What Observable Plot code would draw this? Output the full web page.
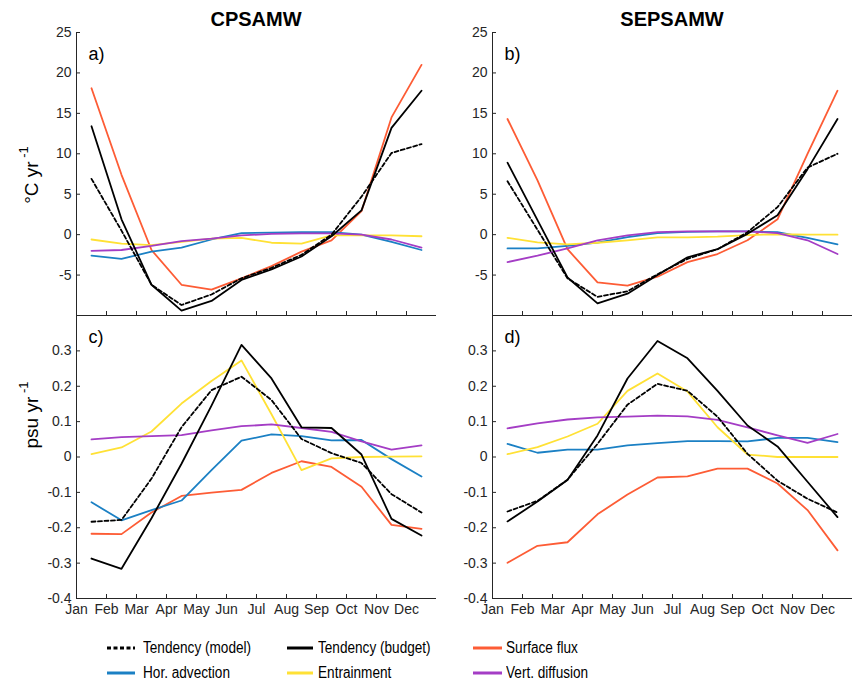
<!DOCTYPE html>
<html><head><meta charset="utf-8">
<script src="https://cdn.jsdelivr.net/npm/d3@7"></script>
<script src="https://cdn.jsdelivr.net/npm/@observablehq/plot@0.6"></script>
<style>
body{margin:0;background:#fff;font-family:"Liberation Sans",Arial,sans-serif;}
#wrap{position:relative;width:852px;height:682px;overflow:hidden;background:#fff;}
.p{position:absolute;}
.title{position:absolute;font-weight:bold;font-size:20px;transform:translate(-50%,-50%);color:#000;white-space:nowrap;}
.leg{position:absolute;height:20px;transform:translateY(-50%);}
.leg svg{position:absolute;left:0;top:0;}
.leg span{position:absolute;top:0;line-height:20px;font-size:16px;color:#000;white-space:nowrap;transform:scaleX(0.85);transform-origin:left center;}
</style></head><body><div id="wrap"></div>
<script>
const months = ["Jan","Feb","Mar","Apr","May","Jun","Jul","Aug","Sep","Oct","Nov","Dec"];
const names = ["Tendency (model)","Tendency (budget)","Surface flux","Hor. advection","Entrainment","Vert. diffusion"];
const colors = ["#000000","#000000","#FD5C35","#1B80C4","#FFE135","#A43DC5"];

// a) CPSAMW temperature (°C/yr)
const aModel  = [6.9, 0.5, -6.2, -8.7, -7.4, -5.4, -4.1, -2.5, 0.0, 4.7, 10.1, 11.2];
const aBudget = [13.4, 1.9, -6.2, -9.4, -8.2, -5.6, -4.3, -2.7, -0.2, 3.0, 13.2, 17.8];
const aSurf   = [18.1, 7.4, -1.9, -6.2, -6.8, -5.4, -3.9, -2.1, -0.7, 2.9, 14.5, 21.0];
const aHor    = [-2.6, -3.0, -2.1, -1.6, -0.6, 0.2, 0.25, 0.3, 0.3, 0.0, -0.9, -1.9];
const aEnt    = [-0.6, -1.1, -1.3, -0.9, -0.5, -0.4, -1.0, -1.1, -0.1, -0.1, -0.1, -0.2];
const aVert   = [-2.0, -1.9, -1.4, -0.8, -0.5, -0.1, 0.1, 0.15, 0.15, 0.0, -0.6, -1.6];

// b) SEPSAMW temperature (°C/yr)
const bModel  = [6.6, 0.6, -5.4, -7.7, -7.0, -4.9, -3.0, -1.8, 0.3, 3.4, 8.3, 10.0];
const bBudget = [8.9, 1.8, -5.3, -8.5, -7.3, -5.0, -2.8, -1.8, 0.1, 2.4, 8.1, 14.3];
const bSurf   = [14.3, 6.7, -1.8, -5.9, -6.3, -5.2, -3.4, -2.4, -0.7, 1.9, 10.0, 17.8];
const bHor    = [-1.7, -1.7, -1.4, -1.0, -0.3, 0.2, 0.35, 0.4, 0.4, 0.3, -0.4, -1.2];
const bEnt    = [-0.4, -0.95, -1.2, -1.0, -0.7, -0.35, -0.35, -0.25, -0.05, 0.05, 0.0, 0.0];
const bVert   = [-3.4, -2.6, -1.7, -0.7, -0.1, 0.3, 0.4, 0.4, 0.4, 0.2, -0.7, -2.4];

// c) CPSAMW salinity (psu/yr)
const cModel  = [-0.183, -0.178, -0.061, 0.084, 0.189, 0.227, 0.161, 0.051, 0.011, -0.017, -0.105, -0.157];
const cBudget = [-0.287, -0.316, -0.173, -0.019, 0.145, 0.317, 0.222, 0.084, 0.082, 0.007, -0.175, -0.222];
const cSurf   = [-0.217, -0.218, -0.157, -0.110, -0.101, -0.093, -0.045, -0.012, -0.028, -0.084, -0.192, -0.203];
const cHor    = [-0.128, -0.179, -0.150, -0.123, -0.037, 0.046, 0.064, 0.059, 0.047, 0.048, -0.006, -0.055];
const cEnt    = [0.008, 0.027, 0.072, 0.151, 0.215, 0.273, 0.121, -0.037, -0.004, 0.0, 0.001, 0.002];
const cVert   = [0.050, 0.056, 0.059, 0.062, 0.075, 0.087, 0.092, 0.082, 0.071, 0.044, 0.021, 0.033];

// d) SEPSAMW salinity (psu/yr)
const dModel  = [-0.154, -0.124, -0.064, 0.037, 0.148, 0.207, 0.187, 0.114, 0.009, -0.067, -0.118, -0.157];
const dBudget = [-0.182, -0.126, -0.065, 0.061, 0.222, 0.328, 0.279, 0.187, 0.089, 0.030, -0.070, -0.170];
const dSurf   = [-0.299, -0.251, -0.241, -0.162, -0.106, -0.058, -0.055, -0.033, -0.033, -0.075, -0.150, -0.264];
const dHor    = [0.037, 0.012, 0.021, 0.021, 0.033, 0.039, 0.045, 0.045, 0.044, 0.054, 0.054, 0.042];
const dEnt    = [0.008, 0.028, 0.058, 0.094, 0.187, 0.236, 0.185, 0.084, 0.007, 0.0, 0.0, 0.0];
const dVert   = [0.081, 0.095, 0.106, 0.112, 0.114, 0.117, 0.115, 0.105, 0.084, 0.061, 0.040, 0.065];

const tempTicks = [-5, 0, 5, 10, 15, 20, 25];
const salTicks = [-0.4, -0.3, -0.2, -0.1, 0, 0.1, 0.2, 0.3];

const INK = "#262626";
const FONT = "Liberation Sans, Arial, sans-serif";

function tidy(arrs) {
  const rows = [];
  arrs.forEach((arr, k) => arr.forEach((v, i) => rows.push({m: i + 0.5, v, s: names[k]})));
  return rows;
}

function panel({arrs, yDomain, yTicks, label, xLabels, left, top, h, mt, mb}) {
  const rows = tidy(arrs);
  const W = 436, ML = 76, MR = 0;
  const plotH = h - mt - mb, plotW = W - ML - MR;
  const order = [2, 3, 4, 5, 1, 0];
  const lines = order.map(k => Plot.line(rows.filter(r => r.s === names[k]), {
    x: "m", y: "v", stroke: "s", strokeWidth: 1.8,
    strokeDasharray: k === 0 ? "4,2.5" : null
  }));
  const chart = Plot.plot({
    width: W, height: h, marginLeft: ML, marginRight: MR, marginTop: mt, marginBottom: mb,
    style: {background: "transparent", overflow: "visible", fontFamily: FONT},
    x: {domain: [0, 12], axis: null},
    y: {domain: yDomain, axis: null},
    color: {domain: names, range: colors},
    marks: [
      Plot.ruleX([0], {stroke: INK, strokeWidth: 1}),
      Plot.ruleY([yDomain[0]], {stroke: INK, strokeWidth: 1}),
      Plot.tickY(yTicks, {y: d => d, stroke: INK, insetRight: plotW - 4}),
      Plot.tickX(d3.range(1, 12), {x: d => d, stroke: INK, insetTop: plotH - 4}),
      Plot.axisY(yTicks, {tickSize: 0, tickPadding: 5, tickFormat: d => String(d), fontSize: 14, color: INK, label: null}),
      xLabels ? Plot.axisX(d3.range(12), {tickSize: 0, tickPadding: 6, tickFormat: i => months[i], fontSize: 14, color: INK, label: null}) : null,
      ...lines,
      Plot.text([label], {text: d => d, frameAnchor: "top-left", dx: 12, dy: 27, fontSize: 18, lineAnchor: "bottom", fill: "#000"})
    ]
  });
  chart.classList.add("p");
  chart.style.left = left + "px";
  chart.style.top = top + "px";
  return chart;
}

const wrap = document.getElementById("wrap");
wrap.appendChild(panel({arrs: [aModel, aBudget, aSurf, aHor, aEnt, aVert], yDomain: [-10, 25], yTicks: tempTicks, label: "a)", xLabels: false, left: 0, top: 0, h: 320, mt: 32, mb: 5}));
wrap.appendChild(panel({arrs: [bModel, bBudget, bSurf, bHor, bEnt, bVert], yDomain: [-10, 25], yTicks: tempTicks, label: "b)", xLabels: false, left: 416, top: 0, h: 320, mt: 32, mb: 5}));
wrap.appendChild(panel({arrs: [cModel, cBudget, cSurf, cHor, cEnt, cVert], yDomain: [-0.4, 0.4], yTicks: salTicks, label: "c)", xLabels: true, left: 0, top: 300, h: 335, mt: 15, mb: 37}));
wrap.appendChild(panel({arrs: [dModel, dBudget, dSurf, dHor, dEnt, dVert], yDomain: [-0.4, 0.4], yTicks: salTicks, label: "d)", xLabels: true, left: 416, top: 300, h: 335, mt: 15, mb: 37}));

// titles
[["CPSAMW", 256], ["SEPSAMW", 672]].forEach(([t, x]) => {
  const d = document.createElement("div");
  d.className = "title"; d.textContent = t;
  d.style.left = x + "px"; d.style.top = "19px";
  wrap.appendChild(d);
});

// y-axis labels
const ns = "http://www.w3.org/2000/svg";
const ylab = document.createElementNS(ns, "svg");
ylab.setAttribute("width", 60); ylab.setAttribute("height", 682);
ylab.style.position = "absolute"; ylab.style.left = "0px"; ylab.style.top = "0px";
[["°C yr", 38, 175], ["psu yr", 38, 415]].forEach(([t, x, y]) => {
  const tx = document.createElementNS(ns, "text");
  tx.setAttribute("transform", `translate(${x},${y}) rotate(-90)`);
  tx.setAttribute("text-anchor", "middle");
  tx.setAttribute("font-size", 19);
  tx.setAttribute("font-family", FONT);
  tx.setAttribute("fill", "#000");
  tx.appendChild(document.createTextNode(t));
  const sup = document.createElementNS(ns, "tspan");
  sup.setAttribute("dy", -10);
  sup.setAttribute("font-size", 13);
  sup.textContent = " -1";
  tx.appendChild(sup);
  ylab.appendChild(tx);
});
wrap.appendChild(ylab);

// legend
const legPos = [[107, 648], [287, 648], [473, 648], [107, 673], [287, 673], [473, 673]];
const legLen = [28, 26, 29, 28, 26, 29];
const legGap = [8, 5, 4, 8, 5, 4];
names.forEach((n, k) => {
  const [x, y] = legPos[k];
  const d = document.createElement("div");
  d.className = "leg";
  d.style.left = x + "px"; d.style.top = y + "px";
  d.style.width = "200px";
  const s = document.createElementNS(ns, "svg");
  s.setAttribute("width", legLen[k]); s.setAttribute("height", 20);
  const l = document.createElementNS(ns, "line");
  l.setAttribute("x1", 0); l.setAttribute("x2", legLen[k]);
  l.setAttribute("y1", 10); l.setAttribute("y2", 10);
  l.setAttribute("stroke", colors[k]); l.setAttribute("stroke-width", 3);
  if (k === 0) l.setAttribute("stroke-dasharray", "4,2.5");
  s.appendChild(l);
  d.appendChild(s);
  const sp = document.createElement("span");
  sp.textContent = n;
  sp.style.left = (legLen[k] + legGap[k]) + "px";
  d.appendChild(sp);
  wrap.appendChild(d);
});
</script>
</body></html>
